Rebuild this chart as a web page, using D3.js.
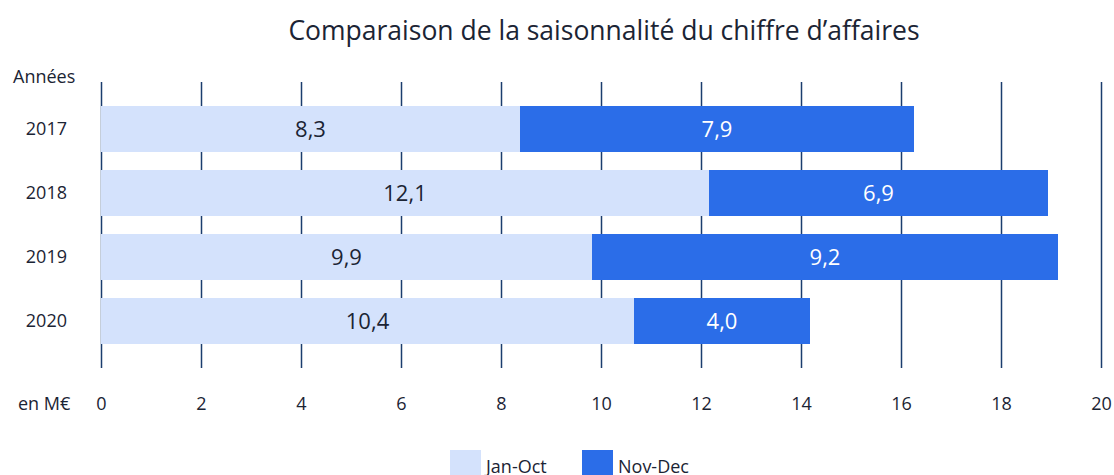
<!DOCTYPE html>
<html>
<head>
<meta charset="utf-8">
<script src="https://cdn.jsdelivr.net/npm/d3@7"></script>
<style>
  html, body { margin: 0; padding: 0; background: #ffffff; }
  svg { display: block; font-family: "Open Sans", sans-serif; }
</style>
</head>
<body>
<svg id="chart" width="1114" height="475"></svg>
<script>
const years = ["2017", "2018", "2019", "2020"];
const janOct = [8.38, 12.16, 9.82, 10.66];
const novDec = [7.88, 6.78, 9.32, 3.52];
const janOctLabels = ["8,3", "12,1", "9,9", "10,4"];
const novDecLabels = ["7,9", "6,9", "9,2", "4,0"];
const xTicks = [0, 2, 4, 6, 8, 10, 12, 14, 16, 18, 20];
const seriesNames = ["Jan-Oct", "Nov-Dec"];
const title = "Comparaison de la saisonnalité du chiffre d’affaires";

const colors = ["#d4e2fc", "#2b6de8"];
const textDark = "#1b2434";
const gridColor = "#1b3d6e";

const svg = d3.select("#chart");
const x = d3.scaleLinear().domain([0, 20]).range([101, 1101]);
const y = d3.scaleBand().domain(years).range([82, 368]).paddingInner(0.28125).paddingOuter(0.375);

// title
svg.append("text").attr("x", 604).attr("y", 40).attr("text-anchor", "middle")
  .attr("font-size", 26.5).attr("fill", textDark).text(title);

// gridlines
const grid = svg.append("g").attr("transform", "translate(0,368)")
  .call(d3.axisBottom(x).tickValues(xTicks).tickSize(-(368 - 82)).tickFormat(""));
grid.select(".domain").remove();
grid.selectAll(".tick line").attr("stroke", gridColor).attr("stroke-width", 1.5);

// tick labels
const xl = svg.append("g").attr("transform", "translate(0,397)")
  .call(d3.axisBottom(x).tickValues(xTicks).tickSize(0).tickPadding(0).tickFormat(d => String(d)));
xl.select(".domain").remove();
xl.selectAll(".tick text").attr("font-size", 18).attr("fill", textDark)
  .attr("font-family", "Open Sans, sans-serif");

svg.append("text").attr("x", 18).attr("y", 410).attr("font-size", 18).attr("fill", textDark).text("en M€");
svg.append("text").attr("x", 13).attr("y", 83).attr("font-size", 18).attr("fill", textDark).text("Années");

// year labels
const yl = svg.append("g").attr("transform", "translate(67,0)")
  .call(d3.axisLeft(y).tickSize(0).tickPadding(0));
yl.select(".domain").remove();
yl.selectAll(".tick text").attr("font-size", 18).attr("fill", textDark)
  .attr("font-family", "Open Sans, sans-serif");

// bars
const rows = years.map((yr, i) => ({ yr, a: janOct[i], b: novDec[i], la: janOctLabels[i], lb: novDecLabels[i] }));
svg.append("g").selectAll("rect").data(rows).join("rect")
  .attr("x", x(0)).attr("y", d => y(d.yr)).attr("width", d => x(d.a) - x(0))
  .attr("height", y.bandwidth()).attr("fill", colors[0]);
svg.append("g").selectAll("rect").data(rows).join("rect")
  .attr("x", d => x(d.a)).attr("y", d => y(d.yr)).attr("width", d => x(d.a + d.b) - x(d.a))
  .attr("height", y.bandwidth()).attr("fill", colors[1]);

// value labels
svg.append("g").selectAll("text").data(rows).join("text")
  .attr("x", d => (x(0) + x(d.a)) / 2).attr("y", d => y(d.yr) + y.bandwidth() / 2)
  .attr("dy", "0.35em").attr("text-anchor", "middle").attr("font-size", 22)
  .attr("fill", textDark).text(d => d.la);
svg.append("g").selectAll("text").data(rows).join("text")
  .attr("x", d => (x(d.a) + x(d.a + d.b)) / 2).attr("y", d => y(d.yr) + y.bandwidth() / 2)
  .attr("dy", "0.35em").attr("text-anchor", "middle").attr("font-size", 22)
  .attr("fill", "#ffffff").text(d => d.lb);

// legend
const legend = svg.append("g");
const legX = [450, 582];
seriesNames.forEach((name, i) => {
  legend.append("rect").attr("x", legX[i]).attr("y", 450).attr("width", 31).attr("height", 31).attr("fill", colors[i]);
  legend.append("text").attr("x", legX[i] + 36).attr("y", 473).attr("font-size", 18)
    .attr("fill", textDark).text(name);
});
</script>
</body>
</html>
